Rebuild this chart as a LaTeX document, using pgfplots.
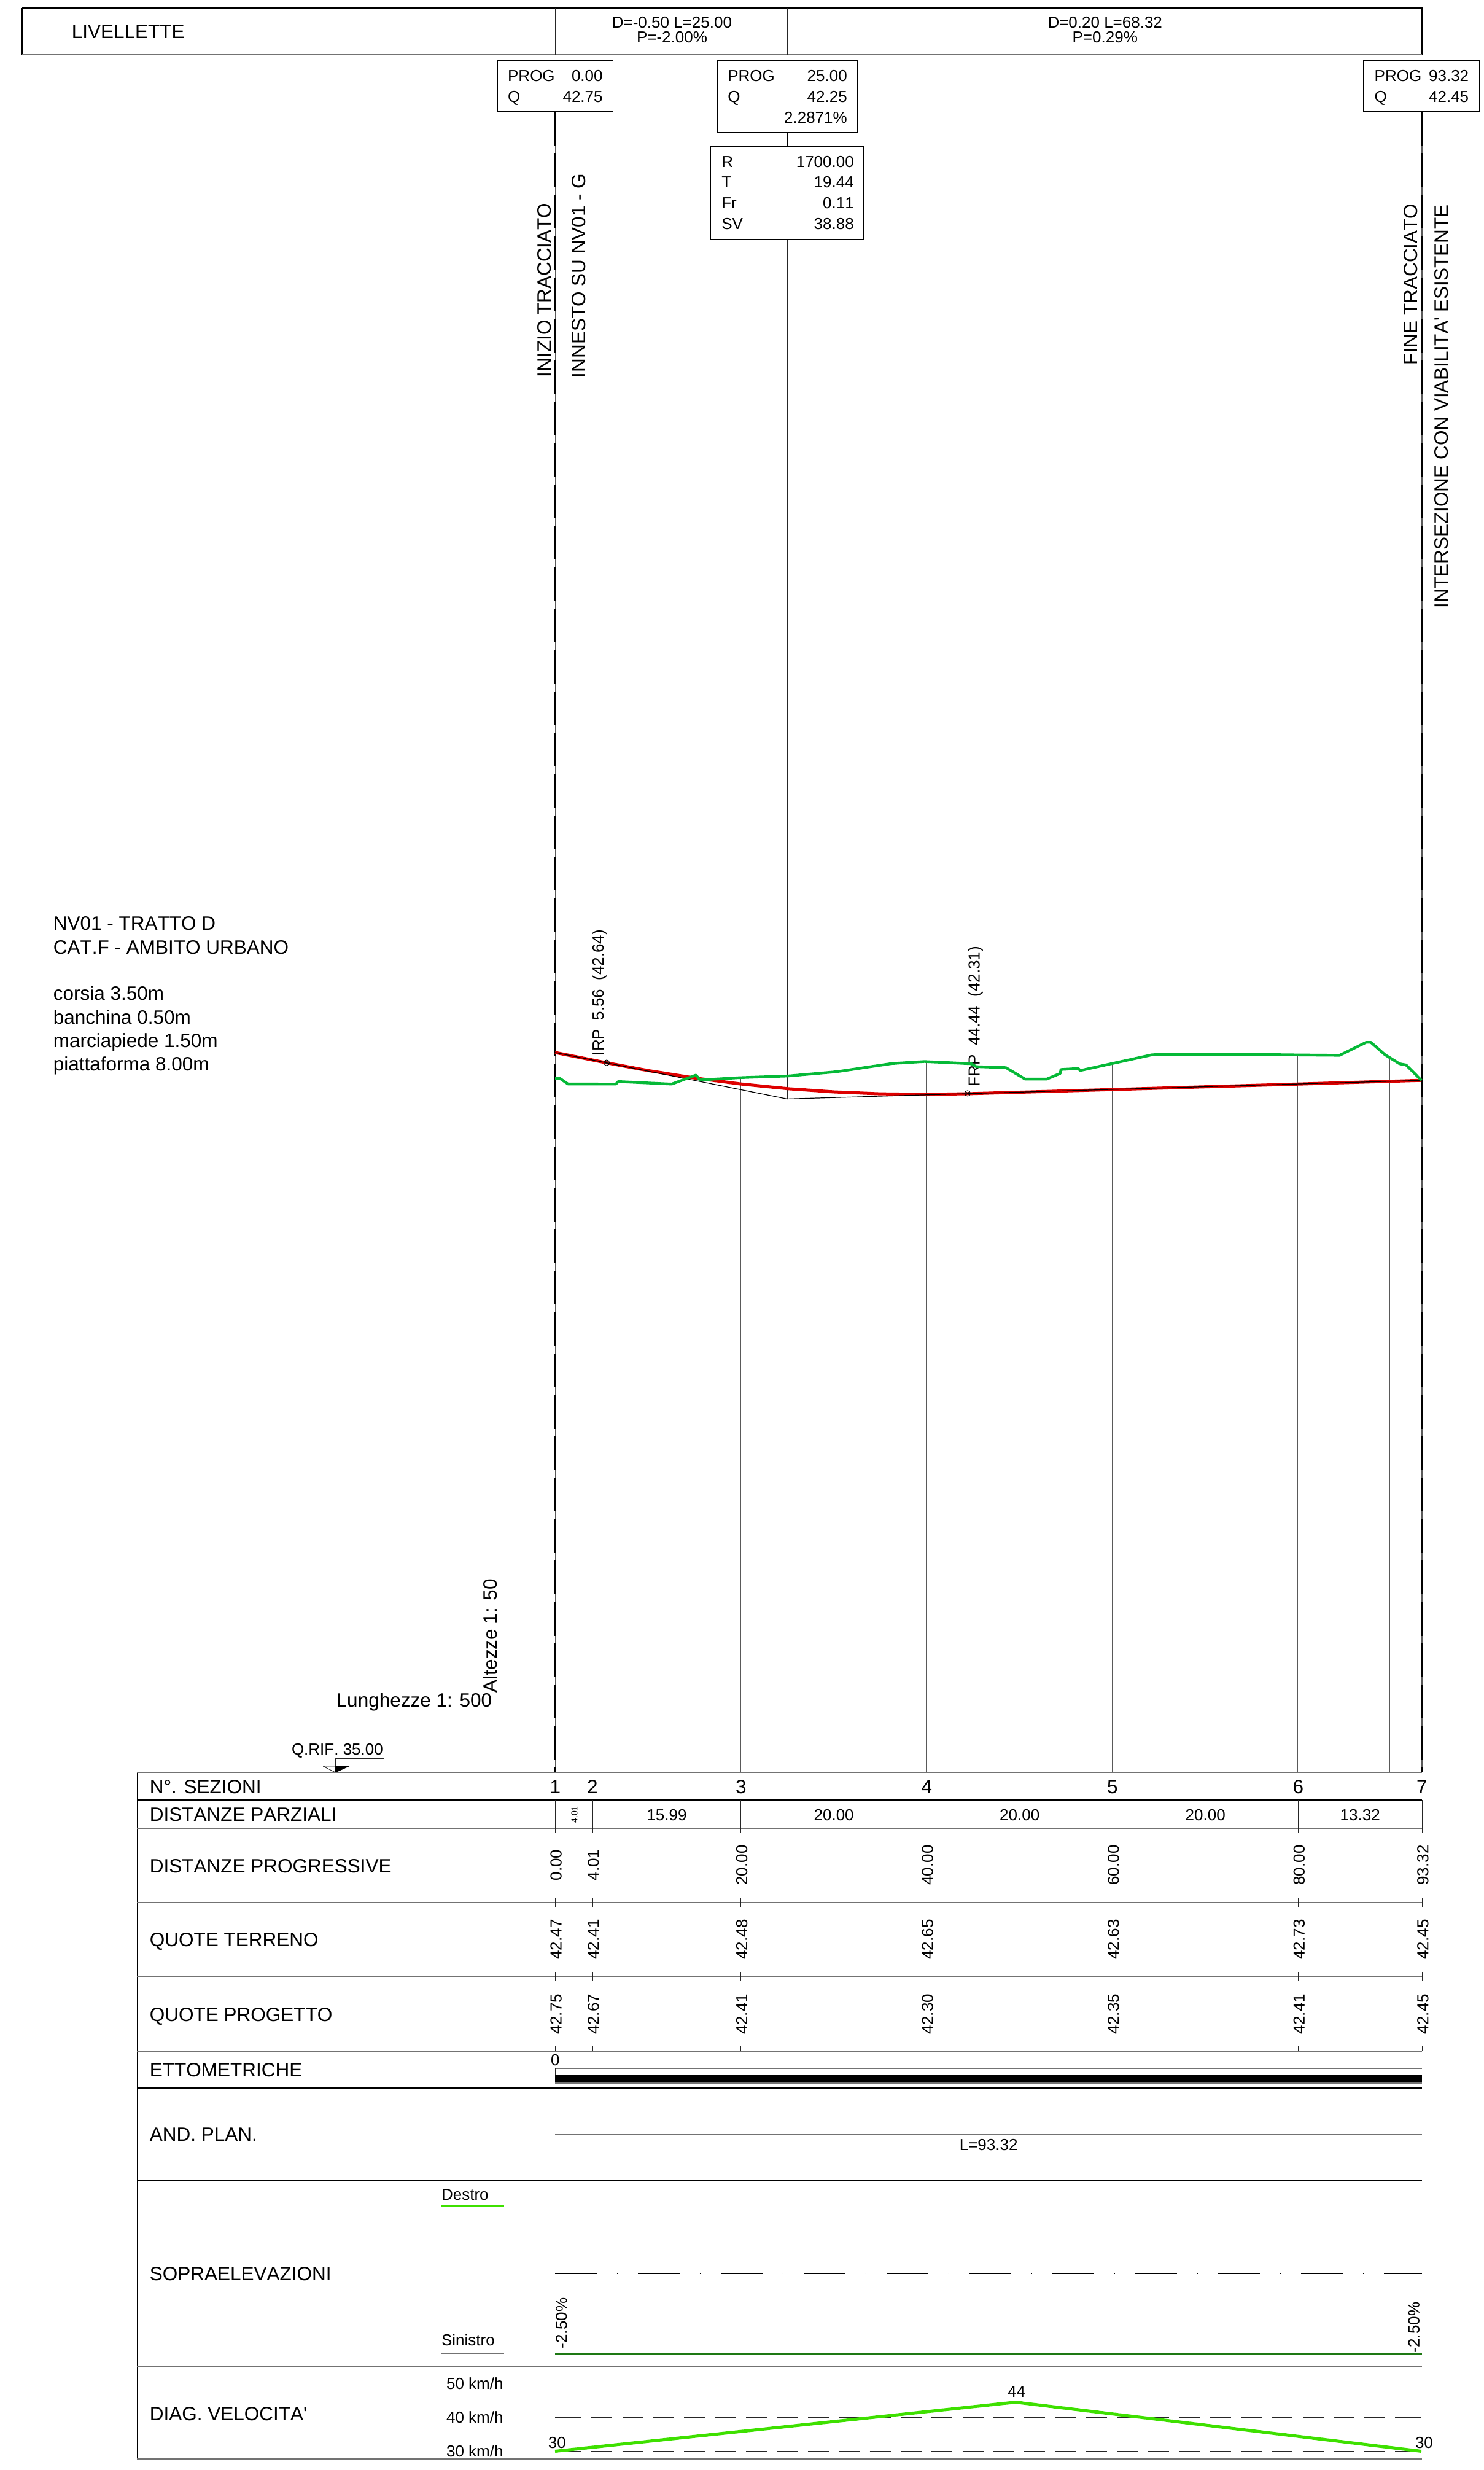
\documentclass[border=0pt]{standalone}
\usepackage{fontspec}
\usepackage{pgfplots}
\pgfplotsset{compat=1.18}
\setmainfont{Liberation Sans}[Kerning=Off]

% 1 px of the sheet = 0.25pt
\newcommand{\fa}{\fontsize{7.875pt}{9pt}\selectfont}
\newcommand{\fb}{\fontsize{6.5pt}{8pt}\selectfont}
\newcommand{\fc}{\fontsize{3.5pt}{4pt}\selectfont}

\definecolor{rosso}{RGB}{222,0,0}
\definecolor{terreno}{RGB}{5,185,55}
\definecolor{verde}{RGB}{62,224,0}
\definecolor{verdescuro}{RGB}{30,120,20}
\definecolor{grigio}{RGB}{115,115,115}

\tikzset{
  ln/.style={black,line width=0.28pt},
  tk/.style={black!85,line width=0.22pt},
  gl/.style={grigio,line width=0.5pt},
  sl/.style={grigio,line width=0.33pt},
  sv/.style={black!65,line width=0.27pt},
  bl/.style={black,line width=0.45pt,dash pattern=on 13.8pt off 3.05pt},
  L/.style={anchor=base west,inner sep=0pt,font=\fa},
  l/.style={anchor=base west,inner sep=0pt,font=\fb},
  r/.style={anchor=base east,inner sep=0pt,font=\fb},
  C/.style={anchor=base,inner sep=0pt,font=\fa},
  c/.style={anchor=base,inner sep=0pt,font=\fb},
  vs/.style={anchor=base west,rotate=90,inner sep=0pt,font=\fb},
  vL/.style={anchor=base west,rotate=90,inner sep=0pt,font=\fa},
  vn/.style={anchor=base,rotate=90,inner sep=0pt,font=\fb},
}

\pgfplotsset{
  sheet/.style={
    scale only axis,width=604.25pt,height=1005.5pt,
    hide axis,clip=false,
  },
}

\newcommand{\seg}[5]{\addplot[#1] coordinates {(#2,#3)(#4,#5)};}
\newcommand{\riq}[4]{\addplot[ln,line join=miter] coordinates {(#1,#2)(#3,#2)(#3,#4)(#1,#4)(#1,#2)};}
% one column of the table: x, progressive, ground, project
\newcommand{\sez}[5]{%
  \node[C] at (#1,2920) {#2};
  \node[vn] at (#1+10.3,3037) {#3};
  \node[vn] at (#1+10.3,3158) {#4};
  \node[vn] at (#1+10.3,3279.5) {#5};
  \seg{tk}{#1}{2931}{#1}{2984}
  \seg{tk}{#1}{3090}{#1}{3105}
  \seg{tk}{#1}{3211}{#1}{3226}
  \seg{tk}{#1}{3332}{#1}{3340}
}

\begin{document}
\begin{tikzpicture}
\path[use as bounding box] (0,0) rectangle (604.25pt,1005.5pt);

% sheet: frames, boxes, table, all text (pixels of the sheet)
\begin{axis}[sheet,xmin=0,xmax=2417,ymin=0,ymax=4022,y dir=reverse]
\riq{36}{13}{2315}{89}
\seg{gl}{36}{89}{2315}{89}
\seg{tk}{904}{13}{904}{89}
\seg{tk}{1282}{13}{1282}{89}
\node[L] at (116,63) {LIVELLETTE};
\node[c] at (1094,46) {D=-0.50 L=25.00};
\node[c] at (1094,70) {P=-2.00\%};
\node[c] at (1799,46) {D=0.20 L=68.32};
\node[c] at (1799,70) {P=0.29\%};

\riq{810}{98}{998}{182}
\node[l] at (826,133) {PROG};
\node[r] at (982,133) {0.00};
\node[l] at (826,167) {Q};
\node[r] at (982,167) {42.75};

\riq{1168}{98}{1396}{216}
\node[l] at (1184,133) {PROG};
\node[r] at (1380,133) {25.00};
\node[l] at (1184,167) {Q};
\node[r] at (1380,167) {42.25};
\node[r] at (1380,201) {2.2871\%};
\seg{ln}{1282}{216}{1282}{238}

\riq{1157}{238}{1406}{390}
\node[l] at (1174,273) {R};
\node[r] at (1391,273) {1700.00};
\node[l] at (1174,306) {T};
\node[r] at (1391,306) {19.44};
\node[l] at (1174,340) {Fr};
\node[r] at (1391,340) {0.11};
\node[l] at (1174,374) {SV};
\node[r] at (1391,374) {38.88};
\seg{tk}{1282}{390}{1282}{1790}

\riq{2220}{98}{2409}{182}
\node[l] at (2237,133) {PROG};
\node[r] at (2392,133) {93.32};
\node[l] at (2237,167) {Q};
\node[r] at (2392,167) {42.45};

\seg{sv}{904}{182}{904}{2886}
\seg{bl}{904}{182}{904}{2886}
\seg{sv}{2315}{182}{2315}{2886}
\seg{bl}{2315}{182}{2315}{2886}

\node[vL] at (897,615) {INIZIO TRACCIATO};
\node[vL] at (953,616) {INNESTO SU NV01 - G};
\node[vL] at (2308,595) {FINE TRACCIATO};
\node[vL] at (2358,991) {INTERSEZIONE CON VIABILITA\textquotesingle{} ESISTENTE};

\node[L] at (86,1514) {NV01 - TRATTO D};
\node[L] at (86,1553) {CAT.F - AMBITO URBANO};
\node[L] at (86,1628) {corsia 3.50m};
\node[L] at (86,1667) {banchina 0.50m};
\node[L] at (86,1705) {marciapiede 1.50m};
\node[L] at (86,1743) {piattaforma 8.00m};

\node[vs] at (982.6,1720) {IRP\ \ 5.56\ \ (42.64)};
\node[vs] at (1595,1770) {FRP\ \ 44.44\ \ (42.31)};

\node[vL] at (809,2757) {Altezze 1: 50};
\node[L] at (546.7,2779.3) {Lunghezze 1: 500};
\node[l] at (474,2857) {Q.RIF. 35.00};
\seg{tk}{546}{2863}{625}{2863}
\seg{tk}{546}{2863}{546}{2886}
\addplot[tk,line join=miter] coordinates {(526,2876)(568,2876)(546,2886)(526,2876)};
\addplot[black,fill=black,line width=0.1pt] coordinates {(546,2876)(568,2876)(546,2886)(546,2876)};

% table
\seg{ln}{223}{2886}{223}{4004}
\seg{gl}{223}{2886}{2315}{2886}
\seg{ln}{223}{2931}{2315}{2931}
\seg{gl}{223}{2977}{2315}{2977}
\seg{gl}{223}{3098}{2315}{3098}
\seg{gl}{223}{3219}{2315}{3219}
\seg{gl}{223}{3340}{2315}{3340}
\seg{ln}{223}{3400}{2315}{3400}
\seg{ln}{223}{3551}{2315}{3551}
\seg{gl}{223}{3854}{2315}{3854}
\seg{gl}{223}{4004}{2315}{4004}

\node[L] at (243,2920) {N°. SEZIONI};
\node[L] at (243,2965) {DISTANZE PARZIALI};
\node[L] at (243,3049) {DISTANZE PROGRESSIVE};
\node[L] at (243,3169) {QUOTE TERRENO};
\node[L] at (243,3291) {QUOTE PROGETTO};
\node[L] at (243,3381) {ETTOMETRICHE};
\node[L] at (243,3486.5) {AND. PLAN.};
\node[L] at (243,3713) {SOPRAELEVAZIONI};
\node[L] at (243,3941) {DIAG. VELOCITA\textquotesingle};

\sez{904}{1}{0.00}{42.47}{42.75}
\sez{964.6}{2}{4.01}{42.41}{42.67}
\sez{1206.4}{3}{20.00}{42.48}{42.41}
\sez{1508.8}{4}{40.00}{42.65}{42.30}
\sez{1811.2}{5}{60.00}{42.63}{42.35}
\sez{2113.6}{6}{80.00}{42.73}{42.41}
\sez{2315}{7}{93.32}{42.45}{42.45}

\node[vn,font=\fc] at (940,2955) {4.01};
\node[c] at (1085.5,2964.5) {15.99};
\node[c] at (1357.6,2964.5) {20.00};
\node[c] at (1660,2964.5) {20.00};
\node[c] at (1962.4,2964.5) {20.00};
\node[c] at (2214.3,2964.5) {13.32};

% ettometriche
\node[c] at (904,3363) {0};
\seg{sl}{904}{3368}{2315}{3368}
\seg{tk}{904}{3368}{904}{3380}
\seg{{black,line width=3pt}}{904}{3385}{2315}{3385}
\seg{sl}{904}{3392}{2315}{3392}

% andamento planimetrico
\seg{gl}{904}{3475.5}{2315}{3475.5}
\node[c] at (1609.5,3501) {L=93.32};

% sopraelevazioni
\node[l] at (718,3582) {Destro};
\seg{{verde,line width=0.4pt}}{718}{3592}{821}{3592}
\node[l] at (718,3819) {Sinistro};
\seg{sl}{718}{3832}{821}{3832}
\addplot[black,line width=0.3pt,dash pattern=on 16.85pt off 8.25pt on 0.4pt off 8.25pt]
  coordinates {(904,3702.4)(2315,3702.4)};
\seg{{verde,line width=1.1pt}}{904}{3833}{2315}{3833}
\seg{{verdescuro,line width=0.35pt}}{904}{3833}{2315}{3833}
\node[vs] at (923,3825) {-2.50\%};
\node[vs] at (2311,3832) {-2.50\%};

% velocita
\node[r] at (820,3890) {50 km/h};
\node[r] at (820,3945.5) {40 km/h};
\node[r] at (820,4000.7) {30 km/h};
\node[c] at (907,3986) {30};
\node[c] at (1655,3903) {44};
\node[c] at (2318.5,3986) {30};
\end{axis}

% longitudinal profile: progressive (m) against elevation (m)
\begin{axis}[sheet,xmin=-59.788,xmax=100.066,ymin=27.485,ymax=54.086]
\addplot[sv] coordinates {(4.01,35)(4.01,42.67)};
\addplot[sv] coordinates {(20,35)(20,42.48)};
\addplot[sv] coordinates {(40,35)(40,42.65)};
\addplot[sv] coordinates {(60,35)(60,42.63)};
\addplot[sv] coordinates {(80,35)(80,42.73)};
\addplot[sv] coordinates {(89.9,35)(89.9,42.69)};

% project
\addplot[rosso,line width=1.25pt] coordinates {
  (0,42.75) (5.56,42.639) (10,42.556) (15,42.476) (20,42.411) (25,42.361)
  (30,42.326) (35,42.305) (40,42.299) (44.44,42.306) (60,42.351) (80,42.410) (93.32,42.45)
};
% tangents
\addplot[black,line width=0.3pt] coordinates {(0,42.75) (25,42.25) (93.32,42.45)};
\addplot[only marks,mark=otimes,mark size=1.15pt,mark options={black,line width=0.2pt}]
  coordinates {(5.56,42.64) (44.44,42.31)};

% ground
\addplot[terreno,line width=1.1pt,line join=round] coordinates {
  (0,42.47) (0.54,42.47) (1.39,42.411) (6.55,42.41) (6.82,42.437) (12.56,42.41)
  (15.19,42.507) (15.6,42.454) (19.88,42.479) (25.1,42.497) (30.34,42.543)
  (36.25,42.631) (39.79,42.653) (44.85,42.629) (45.36,42.598) (48.57,42.587)
  (50.62,42.464) (52.97,42.464) (54.42,42.525) (54.49,42.567) (56.36,42.578)
  (56.57,42.556) (60,42.631) (64.33,42.726) (69.54,42.732) (78.46,42.726)
  (79.97,42.724) (84.51,42.72) (87.37,42.86) (87.87,42.86) (89.38,42.728)
  (90.96,42.629) (91.67,42.616) (93.32,42.45)
};
\end{axis}

% speed diagram: progressive (m) against km/h
\begin{axis}[sheet,xmin=-59.788,xmax=100.066,ymin=24.505,ymax=749.2]
\pgfplotsinvokeforeach{30,40,50}{
  \addplot[black!85,line width=0.32pt] coordinates {(0,#1)(2.78,#1)};
  \addplot[black!85,line width=0.32pt,dash pattern=on 8.5pt off 4.09pt] coordinates {(3.92,#1)(89.9,#1)};
  \addplot[black!85,line width=0.32pt] coordinates {(90.5,#1)(93.32,#1)};
}
\addplot[verde,line width=1.25pt,line join=round] coordinates {(0,30) (49.6,44.4) (93.32,30)};
\end{axis}
\end{tikzpicture}
\end{document}
